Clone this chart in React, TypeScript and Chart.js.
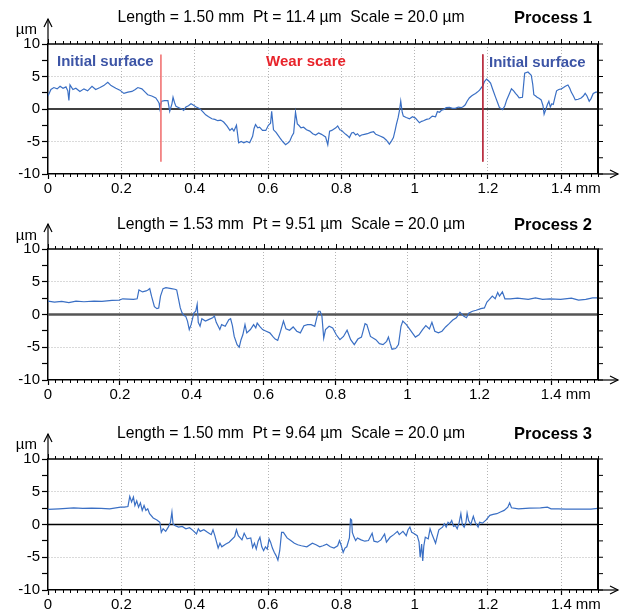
import React, { useEffect, useRef } from 'react';
import { Chart, registerables } from 'chart.js';

Chart.register(...registerables);

const FONT = '"Liberation Sans", Arial, Helvetica, sans-serif';

// ---------- DATA ----------
const titles = [
  'Length = 1.50 mm  Pt = 11.4 µm  Scale = 20.0 µm',
  'Length = 1.53 mm  Pt = 9.51 µm  Scale = 20.0 µm',
  'Length = 1.50 mm  Pt = 9.64 µm  Scale = 20.0 µm',
];
const processLabels = ['Process 1', 'Process 2', 'Process 3'];
const lengthsMm = [1.5, 1.53, 1.5];
const yTickValues = [-10, -5, 0, 5, 10];
const wearBoundaryX = [0.308, 1.186];
const wearBoundaryY = [8.4, -8.1];
const regionLabels = ['Initial surface', 'Wear scare', 'Initial surface'];

// profile points: [position (mm), height (µm)]
const profile1: [number, number][] = [
  [0, 2.0], [0.008, 3.0], [0.016, 3.3], [0.025, 3.1], [0.033, 3.5], [0.041, 3.2], [0.049, 3.4], [0.054, 2.8],
  [0.057, 1.3], [0.06, 3.7], [0.068, 3.0], [0.076, 3.2], [0.087, 2.7], [0.098, 3.1], [0.108, 2.8], [0.12, 3.5],
  [0.13, 3.0], [0.142, 3.3], [0.152, 3.6], [0.163, 4.1], [0.172, 3.6], [0.185, 3.2], [0.196, 2.9], [0.207, 2.4],
  [0.218, 2.6], [0.229, 2.7], [0.238, 3.0], [0.245, 3.3], [0.256, 3.1], [0.265, 2.6], [0.272, 2.2], [0.283, 2.0],
  [0.294, 1.7], [0.3, 1.2], [0.303, 0.9], [0.305, 0.15], [0.31, 1.2], [0.318, 1.3], [0.327, 1.3], [0.332, -0.35],
  [0.338, 0.8], [0.341, 1.8], [0.345, 1.0], [0.349, 0.4], [0.357, 0.2], [0.365, 0.0], [0.37, -0.2], [0.376, 0.3],
  [0.383, 0.5], [0.39, 0.8], [0.396, 0.6], [0.403, 0.35], [0.414, 0.05], [0.422, -0.4], [0.43, -0.9], [0.438, -1.2],
  [0.447, -1.5], [0.455, -1.6], [0.463, -1.8], [0.471, -1.7], [0.479, -2.0], [0.488, -2.6], [0.496, -3.3], [0.502, -3.0],
  [0.507, -3.4], [0.514, -2.5], [0.52, -5.2], [0.527, -5.0], [0.534, -5.2], [0.542, -5.0], [0.55, -5.2], [0.558, -4.2],
  [0.562, -3.0], [0.566, -2.4], [0.572, -2.9], [0.577, -2.8], [0.585, -3.3], [0.594, -3.3], [0.601, -2.5], [0.607, -2.2],
  [0.61, -0.35], [0.615, -3.2], [0.622, -3.6], [0.632, -4.4], [0.64, -5.0], [0.648, -5.5], [0.655, -5.2], [0.659, -5.0],
  [0.665, -4.2], [0.67, -3.7], [0.675, -0.5], [0.68, -2.3], [0.684, -2.5], [0.69, -2.9], [0.697, -2.8], [0.705, -3.2],
  [0.714, -3.4], [0.722, -3.8], [0.73, -4.0], [0.738, -3.7], [0.746, -3.9], [0.752, -4.1], [0.757, -4.3], [0.763, -5.5],
  [0.768, -3.4], [0.774, -3.3], [0.779, -3.1], [0.785, -2.9], [0.79, -2.6], [0.796, -3.2], [0.801, -3.3], [0.806, -3.6],
  [0.812, -3.9], [0.817, -4.1], [0.822, -4.4], [0.828, -3.7], [0.833, -3.6], [0.839, -4.0], [0.844, -3.8], [0.85, -4.2],
  [0.855, -4.0], [0.863, -3.9], [0.871, -3.8], [0.88, -3.6], [0.888, -3.5], [0.894, -3.9], [0.899, -4.0], [0.907, -4.2],
  [0.915, -4.4], [0.923, -4.8], [0.931, -5.4], [0.937, -4.9], [0.942, -4.4], [0.947, -3.2], [0.95, -2.4], [0.955, -1.3],
  [0.959, -0.1], [0.962, 1.2], [0.966, -0.5], [0.969, -1.1], [0.977, -1.3], [0.986, -1.5], [0.994, -1.2], [1.002, -1.4],
  [1.008, -1.8], [1.013, -2.1], [1.019, -1.9], [1.024, -1.8], [1.032, -1.6], [1.04, -1.5], [1.048, -1.1], [1.057, -1.2],
  [1.062, -0.4], [1.068, -0.5], [1.073, -0.2], [1.078, -0.1], [1.086, 0.2], [1.095, 0.25], [1.103, 0.1], [1.111, 0.1],
  [1.119, 0.3], [1.127, 0.2], [1.133, 0.4], [1.138, 0.65], [1.143, 1.2], [1.149, 1.7], [1.155, 2.0], [1.16, 2.2],
  [1.166, 2.4], [1.171, 2.6], [1.177, 2.9], [1.182, 3.3], [1.186, 3.6], [1.19, 4.2], [1.196, 4.6], [1.202, 4.3],
  [1.207, 4.0], [1.213, 3.0], [1.22, 1.9], [1.226, 1.0], [1.231, 0.25], [1.24, -0.1], [1.246, 0.5], [1.251, 1.4],
  [1.258, 2.3], [1.264, 3.1], [1.27, 2.8], [1.275, 2.4], [1.28, 2.1], [1.285, 1.7], [1.294, 1.8], [1.3, 5.5],
  [1.309, 5.7], [1.318, 5.2], [1.322, 3.8], [1.325, 2.2], [1.33, 2.0], [1.334, 1.8], [1.34, 1.6], [1.345, 1.4],
  [1.35, 0.5], [1.353, -0.8], [1.358, 0.0], [1.362, 0.7], [1.366, 1.2], [1.37, 0.3], [1.374, 0.8], [1.378, 0.7],
  [1.383, 1.9], [1.387, 2.8], [1.393, 3.0], [1.4, 3.1], [1.406, 3.3], [1.411, 3.5], [1.418, 3.7], [1.423, 3.2],
  [1.427, 2.6], [1.433, 2.0], [1.438, 1.4], [1.446, 1.5], [1.454, 1.7], [1.46, 2.0], [1.465, 2.4], [1.47, 2.0],
  [1.476, 1.2], [1.481, 1.6], [1.487, 2.4], [1.494, 2.6], [1.5, 2.6],
];

const profile2: [number, number][] = [
  [0, 2.05], [0.018, 1.9], [0.038, 2.0], [0.058, 1.8], [0.078, 2.05], [0.1, 1.95], [0.128, 2.05], [0.15, 2.0],
  [0.178, 2.15], [0.198, 2.2], [0.208, 2.4], [0.238, 2.3], [0.248, 2.4], [0.253, 3.75], [0.263, 3.45], [0.273, 3.6],
  [0.278, 3.75], [0.283, 3.95], [0.288, 2.8], [0.296, 1.2], [0.303, 0.9], [0.308, 1.0], [0.313, 2.8], [0.32, 3.95],
  [0.328, 4.1], [0.343, 3.95], [0.353, 3.85], [0.358, 3.75], [0.363, 2.4], [0.368, 1.0], [0.373, 0.25], [0.378, -0.15],
  [0.383, -0.25], [0.388, -1.0], [0.393, -2.3], [0.398, -1.55], [0.406, 0.25], [0.411, 0.5], [0.415, 1.55], [0.418, -1.2],
  [0.423, -1.8], [0.428, -0.65], [0.438, -1.0], [0.448, -0.75], [0.458, -0.5], [0.463, -0.25], [0.468, -1.2], [0.478, -2.3],
  [0.483, -1.55], [0.493, -1.8], [0.503, -0.8], [0.508, -0.65], [0.513, -1.7], [0.518, -3.35], [0.526, -4.6], [0.532, -5.0],
  [0.537, -3.85], [0.542, -3.1], [0.548, -1.55], [0.553, -2.8], [0.563, -2.3], [0.572, -1.55], [0.578, -2.05], [0.582, -1.3],
  [0.589, -1.8], [0.597, -2.3], [0.607, -2.55], [0.617, -2.8], [0.627, -3.45], [0.632, -3.75], [0.639, -3.95], [0.647, -2.55],
  [0.655, -1.0], [0.662, -2.2], [0.672, -2.4], [0.682, -1.9], [0.692, -2.55], [0.702, -2.8], [0.712, -1.7], [0.722, -1.55],
  [0.732, -1.55], [0.742, -1.8], [0.752, 0.5], [0.757, 0.5], [0.762, -0.25], [0.767, -3.6], [0.772, -2.3], [0.782, -1.8],
  [0.792, -2.05], [0.802, -3.1], [0.812, -3.85], [0.822, -3.35], [0.832, -2.4], [0.842, -3.85], [0.852, -4.6], [0.862, -3.75],
  [0.872, -3.45], [0.882, -1.4], [0.887, -1.55], [0.897, -3.35], [0.912, -3.85], [0.922, -4.45], [0.932, -4.6], [0.942, -4.1],
  [0.947, -3.45], [0.952, -4.45], [0.957, -5.3], [0.967, -5.2], [0.975, -4.6], [0.982, -1.8], [0.987, -1.0], [0.997, -1.55],
  [1.007, -2.3], [1.022, -3.45], [1.032, -3.1], [1.042, -2.3], [1.051, -1.7], [1.061, -2.2], [1.068, -1.2], [1.076, -2.55],
  [1.086, -2.8], [1.096, -2.55], [1.106, -1.9], [1.116, -1.4], [1.126, -0.85], [1.136, -0.5], [1.146, 0.35], [1.156, -0.25],
  [1.164, -0.5], [1.171, 0.25], [1.181, 0.5], [1.191, 0.65], [1.204, 0.9], [1.214, 1.0], [1.221, 1.9], [1.228, 2.3],
  [1.236, 2.8], [1.244, 2.4], [1.251, 3.35], [1.256, 2.8], [1.264, 3.45], [1.271, 2.4], [1.286, 2.4], [1.306, 2.5],
  [1.336, 2.3], [1.356, 2.55], [1.376, 2.3], [1.396, 2.4], [1.426, 2.3], [1.456, 2.5], [1.476, 2.2], [1.496, 2.3],
  [1.515, 2.55], [1.53, 2.55],
];

const profile3: [number, number][] = [
  [0, 2.3], [0.03, 2.4], [0.07, 2.55], [0.095, 2.45], [0.119, 2.5], [0.145, 2.45], [0.168, 2.4], [0.198, 2.65],
  [0.208, 2.65], [0.218, 2.75], [0.223, 4.3], [0.228, 3.45], [0.233, 4.2], [0.237, 2.9], [0.242, 3.6], [0.247, 2.65],
  [0.252, 3.3], [0.257, 2.15], [0.262, 2.9], [0.267, 2.15], [0.272, 2.4], [0.277, 1.65], [0.287, 1.0], [0.297, 0.7],
  [0.305, 0.35], [0.309, -1.2], [0.314, -0.65], [0.321, -1.05], [0.328, -0.4], [0.334, 0.35], [0.338, 1.9], [0.341, 0.1],
  [0.346, -0.15], [0.356, -0.4], [0.366, -0.3], [0.376, -0.65], [0.386, -0.5], [0.395, -0.9], [0.405, -1.45], [0.41, -0.65],
  [0.415, -1.05], [0.425, -0.8], [0.435, -1.2], [0.445, -1.55], [0.45, -0.8], [0.455, -1.7], [0.464, -3.6], [0.469, -2.85],
  [0.474, -3.4], [0.484, -3.0], [0.494, -2.7], [0.509, -1.85], [0.514, -0.8], [0.519, -1.7], [0.529, -2.35], [0.535, -1.35],
  [0.543, -2.2], [0.553, -2.05], [0.558, -3.5], [0.563, -2.85], [0.568, -3.75], [0.573, -2.55], [0.578, -1.95], [0.583, -3.4],
  [0.588, -4.0], [0.593, -3.4], [0.598, -3.75], [0.603, -2.2], [0.607, -2.7], [0.612, -3.6], [0.617, -4.25], [0.622, -4.75],
  [0.627, -5.45], [0.632, -4.0], [0.637, -1.2], [0.642, -1.2], [0.652, -2.05], [0.662, -2.45], [0.672, -2.85], [0.681, -3.1],
  [0.691, -3.25], [0.706, -3.4], [0.721, -2.85], [0.731, -3.1], [0.741, -3.4], [0.75, -3.25], [0.76, -3.0], [0.77, -3.4],
  [0.78, -3.6], [0.79, -3.25], [0.795, -2.45], [0.8, -3.25], [0.805, -4.25], [0.81, -3.6], [0.815, -3.4], [0.822, -2.05],
  [0.825, 0.85], [0.828, 0.7], [0.83, -1.2], [0.834, -1.85], [0.839, -2.45], [0.844, -2.05], [0.854, -2.35], [0.864, -2.55],
  [0.874, -2.45], [0.884, -1.35], [0.889, -2.55], [0.899, -2.7], [0.908, -2.35], [0.918, -1.45], [0.923, -2.7], [0.933, -1.95],
  [0.943, -1.55], [0.953, -1.05], [0.958, -1.55], [0.968, -1.05], [0.977, -1.7], [0.982, -0.8], [0.987, -0.4], [0.992, -1.2],
  [0.997, -1.35], [1.007, -1.7], [1.012, -2.7], [1.015, -5.0], [1.019, -3.0], [1.022, -5.55], [1.025, -3.25], [1.029, -1.95],
  [1.037, -2.2], [1.042, -0.65], [1.047, -1.45], [1.057, -2.85], [1.062, -1.7], [1.066, -0.8], [1.076, -0.4], [1.081, 0.1],
  [1.086, -0.4], [1.091, 0.35], [1.096, 0.1], [1.101, 0.6], [1.106, -0.3], [1.111, -0.15], [1.116, -0.65], [1.121, 0.2],
  [1.126, 1.65], [1.13, 0.0], [1.135, -0.4], [1.14, 0.35], [1.143, 1.75], [1.147, 0.6], [1.153, 0.0], [1.16, 1.25],
  [1.165, 0.35], [1.173, -0.4], [1.177, 0.35], [1.185, 0.2], [1.195, 0.7], [1.205, 1.4], [1.214, 1.55], [1.224, 1.65],
  [1.234, 1.9], [1.244, 2.15], [1.254, 2.65], [1.259, 3.3], [1.264, 2.55], [1.283, 2.4], [1.313, 2.5], [1.343, 2.55],
  [1.362, 2.65], [1.372, 2.4], [1.392, 2.4], [1.412, 2.35], [1.431, 2.35], [1.451, 2.35], [1.481, 2.35], [1.5, 2.45],
];

const profiles = [profile1, profile2, profile3];

// ---------- LAYOUT / STYLE ----------
type Layout = {
  height: number;
  plotTop: number;
  plotBottom: number;
  titleY: number;
  unitY: number;
  arrowTip: number;
  zeroColor: string;
  zeroWidth: number;
};

const layouts: Layout[] = [
  { height: 204, plotTop: 44, plotBottom: 174, titleY: 18, unitY: 30, arrowTip: 19, zeroColor: '#000', zeroWidth: 1.5 },
  { height: 206, plotTop: 45, plotBottom: 176, titleY: 21, unitY: 32, arrowTip: 20, zeroColor: '#555', zeroWidth: 2.5 },
  { height: 202, plotTop: 49, plotBottom: 180, titleY: 24, unitY: 35, arrowTip: 24, zeroColor: '#000', zeroWidth: 1.5 },
];

const PLOT_RIGHT = 598;
const PLOT_LEFT = 48;
const X_TICK_LEN = 5;
const X_TICK_PAD = 1;
const TICK_FONT = 15;

function makeDecor(idx: number) {
  const L = layouts[idx];
  return {
    id: 'decor' + idx,
    afterDraw(chart: any) {
      const { ctx, chartArea: a } = chart;
      const xs = chart.scales.x;
      const ys = chart.scales.y;
      const seg = (x1: number, y1: number, x2: number, y2: number) => {
        ctx.beginPath();
        ctx.moveTo(x1, y1);
        ctx.lineTo(x2, y2);
        ctx.stroke();
      };
      ctx.save();
      ctx.strokeStyle = '#000';
      ctx.setLineDash([]);
      // top & right frame
      ctx.lineWidth = 1.5;
      seg(a.left, a.top, a.right + 1, a.top);
      ctx.lineWidth = 2;
      seg(a.right, a.top, a.right, a.bottom);
      // minor x ticks
      ctx.lineWidth = 1;
      const n = Math.floor(lengthsMm[idx] / 0.02 + 1e-6);
      for (let i = 0; i <= n; i++) {
        const px = Math.round(xs.getPixelForValue(i * 0.02)) + 0.5;
        const major = i % 10 === 0;
        seg(px, a.top, px, a.top - (major ? 5 : 3));
        if (!major) seg(px, a.bottom, px, a.bottom + 3);
      }
      // right y ticks
      for (let k = 0; k <= 8; k++) {
        const py = ys.getPixelForValue(-10 + k * 2.5);
        seg(a.right, py, a.right + 5, py);
      }
      // arrows
      ctx.lineWidth = 1.2;
      seg(a.left, a.top, a.left, L.arrowTip);
      ctx.beginPath();
      ctx.moveTo(a.left - 4, L.arrowTip + 8);
      ctx.lineTo(a.left, L.arrowTip);
      ctx.lineTo(a.left + 4, L.arrowTip + 8);
      ctx.stroke();
      seg(a.right, a.bottom, 618, a.bottom);
      ctx.beginPath();
      ctx.moveTo(610, a.bottom - 4);
      ctx.lineTo(618, a.bottom);
      ctx.lineTo(610, a.bottom + 4);
      ctx.stroke();

      // texts
      ctx.fillStyle = '#000';
      ctx.textBaseline = 'middle';
      ctx.font = `15.7px ${FONT}`;
      ctx.textAlign = 'center';
      ctx.fillText(titles[idx], 291, L.titleY);
      ctx.font = `15px ${FONT}`;
      ctx.textAlign = 'right';
      ctx.fillText('µm', 37, L.unitY);
      // unit after last x label
      ctx.font = `${TICK_FONT}px ${FONT}`;
      ctx.textAlign = 'left';
      const p14 = xs.getPixelForValue(1.4);
      const w14 = ctx.measureText('1.4').width;
      ctx.fillText('mm', p14 + w14 / 2 + 4, a.bottom + X_TICK_LEN + X_TICK_PAD + (TICK_FONT * 1.2) / 2);
      // process label
      ctx.font = `bold 16.5px ${FONT}`;
      ctx.textAlign = 'right';
      ctx.fillText(processLabels[idx], 592, L.titleY);

      if (idx === 0) {
        ctx.font = `bold 15px ${FONT}`;
        ctx.textAlign = 'left';
        ctx.fillStyle = '#3d55a6';
        ctx.fillText(regionLabels[0], 57, 62);
        ctx.fillText(regionLabels[2], 489, 63);
        ctx.textAlign = 'center';
        ctx.fillStyle = '#e8232a';
        ctx.fillText(regionLabels[1], 306, 62);
      }
      ctx.restore();
    },
  };
}

function Panel({ idx }: { idx: number }) {
  const ref = useRef<HTMLCanvasElement>(null);
  const L = layouts[idx];
  useEffect(() => {
    if (!ref.current) return;
    const xMax = lengthsMm[idx];
    const datasets: any[] = [
      {
        label: 'profile',
        data: profiles[idx].map(([x, y]) => ({ x, y })),
        borderColor: '#3a6fc4',
        borderWidth: 1.2,
        pointRadius: 0,
        tension: 0,
        order: 1,
      },
      {
        label: 'zero',
        data: [{ x: 0, y: 0 }, { x: xMax, y: 0 }],
        borderColor: L.zeroColor,
        borderWidth: L.zeroWidth,
        pointRadius: 0,
        order: 3,
      },
    ];
    if (idx === 0) {
      datasets.push(
        {
          label: 'boundary-left',
          data: [{ x: wearBoundaryX[0], y: wearBoundaryY[0] }, { x: wearBoundaryX[0], y: wearBoundaryY[1] }],
          borderColor: '#f06a6a',
          borderWidth: 1.5,
          pointRadius: 0,
          order: 0,
        },
        {
          label: 'boundary-right',
          data: [{ x: wearBoundaryX[1], y: wearBoundaryY[0] }, { x: wearBoundaryX[1], y: wearBoundaryY[1] }],
          borderColor: '#b8283a',
          borderWidth: 1,
          pointRadius: 0,
          order: 0,
        }
      );
    }
    const chart = new Chart(ref.current, {
      type: 'line',
      data: { datasets },
      options: {
        animation: false,
        responsive: true,
        maintainAspectRatio: false,
        layout: { padding: { top: L.plotTop, right: 622 - PLOT_RIGHT, left: 0, bottom: 0 } },
        plugins: { legend: { display: false }, tooltip: { enabled: false }, title: { display: false } },
        scales: {
          x: {
            type: 'linear',
            min: 0,
            max: xMax,
            afterFit: (s: any) => {
              s.height = L.height - L.plotBottom;
            },
            ticks: {
              stepSize: 0.2,
              includeBounds: false,
              autoSkip: false,
              maxRotation: 0,
              padding: X_TICK_PAD,
              color: '#000',
              font: { family: FONT, size: TICK_FONT },
              callback: (v: any) => {
                const n = Math.round(Number(v) * 10) / 10;
                return String(n);
              },
            },
            grid: {
              color: (c: any) => (c.tick && Math.abs(c.tick.value) > 1e-6 ? '#b4b4b4' : 'rgba(0,0,0,0)'),
              lineWidth: 1,
              drawTicks: true,
              tickLength: X_TICK_LEN,
              tickColor: '#000',
              tickWidth: 1.2,
            },
            border: { display: true, color: '#000', width: 1.5, dash: [1, 2] },
          },
          y: {
            type: 'linear',
            min: -10,
            max: 10,
            afterFit: (s: any) => {
              s.width = PLOT_LEFT;
            },
            afterBuildTicks: (s: any) => {
              const t: any[] = [];
              for (let k = 0; k <= 8; k++) t.push({ value: -10 + k * 2.5 });
              s.ticks = t;
            },
            ticks: {
              autoSkip: false,
              padding: 2,
              color: '#000',
              font: { family: FONT, size: TICK_FONT },
              callback: (v: any) => (yTickValues.includes(Number(v)) ? String(v) : ''),
            },
            grid: {
              color: (c: any) =>
                c.tick && (c.tick.value === 5 || c.tick.value === -5) ? '#b4b4b4' : 'rgba(0,0,0,0)',
              lineWidth: 1,
              drawTicks: true,
              tickLength: 6,
              tickColor: '#000',
              tickWidth: 1.2,
            },
            border: { display: true, color: '#000', width: 1.5, dash: [1, 2] },
          },
        },
      },
      plugins: [makeDecor(idx)],
    } as any);
    return () => chart.destroy();
  }, [idx]);
  return (
    <div style={{ position: 'relative', width: 622, height: L.height }}>
      <canvas ref={ref} />
    </div>
  );
}

export default function App() {
  useEffect(() => {
    document.body.style.margin = '0';
    document.body.style.background = '#fff';
  }, []);
  return (
    <div style={{ width: 622, height: 612, background: '#fff' }}>
      <Panel idx={0} />
      <Panel idx={1} />
      <Panel idx={2} />
    </div>
  );
}
